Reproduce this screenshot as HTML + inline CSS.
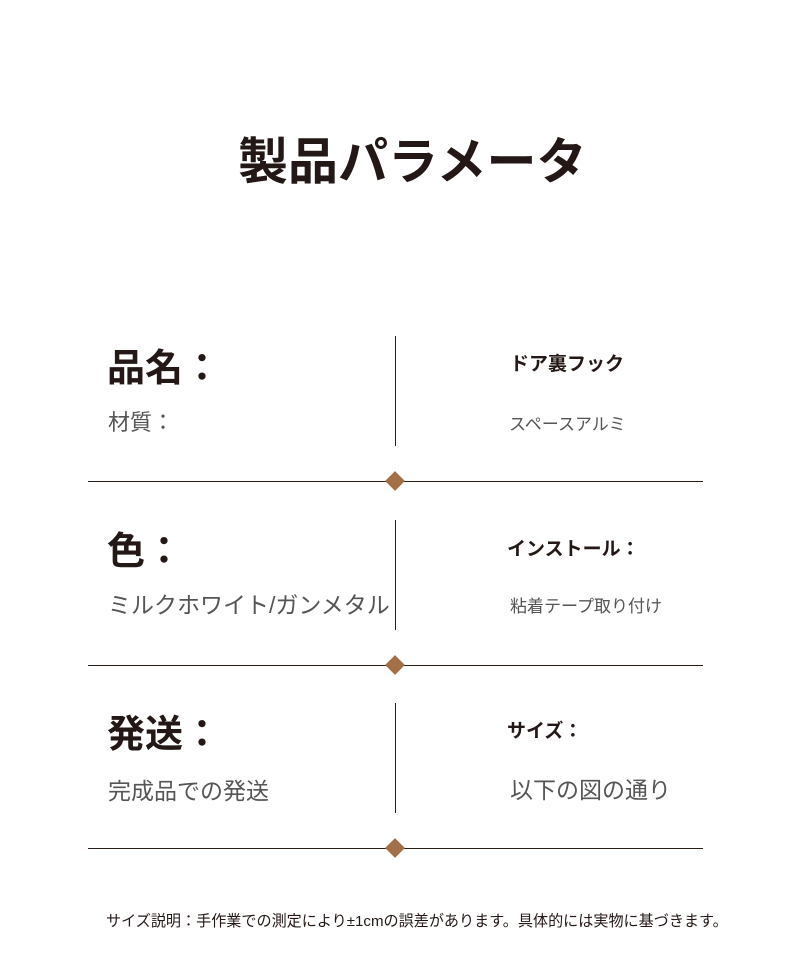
<!DOCTYPE html>
<html><head><meta charset="utf-8"><style>
body{margin:0;width:790px;height:955px;background:#fff;position:relative;overflow:hidden;font-family:"Liberation Sans","Noto Sans CJK JP",sans-serif;color:#2a1e18}
.t{position:absolute;white-space:nowrap;line-height:1}
.h{position:absolute;height:1px;background:#2a1e18;left:88px;width:615px}
.v{position:absolute;width:1px;background:#2a1e18;left:395px}
.d{position:absolute;width:14px;height:14px;background:#a36f48;transform:rotate(45deg);left:388px}
.big{font-size:38px;font-weight:bold;color:#231815}
.sub{font-size:23px;color:#555}
.rb{font-size:19px;font-weight:bold;color:#231815}
.rs{font-size:17px;color:#555}
</style></head><body>
<div class="t" style="left:238px;top:137px;font-size:50px;font-weight:bold;color:#231815">製品パラメータ</div>

<div class="t big" style="left:107px;top:350px">品名：</div>
<div class="t" style="left:108px;top:412px;font-size:22px;color:#555">材質：</div>
<div class="v" style="top:336px;height:110px"></div>
<div class="t rb" style="left:510px;top:355px">ドア裏フック</div>
<div class="t rs" style="left:509px;top:416px">スペースアルミ</div>
<div class="h" style="top:481px"></div>
<div class="d" style="top:474px"></div>

<div class="t big" style="left:107px;top:533px">色：</div>
<div class="t" style="left:108px;top:594px;font-size:23px;color:#555">ミルクホワイト/ガンメタル</div>
<div class="v" style="top:520px;height:110px"></div>
<div class="t rb" style="left:507px;top:540px">インストール：</div>
<div class="t rs" style="left:510px;top:598px">粘着テープ取り付け</div>
<div class="h" style="top:665px"></div>
<div class="d" style="top:658px"></div>

<div class="t big" style="left:107px;top:716px">発送：</div>
<div class="t sub" style="left:108px;top:780px">完成品での発送</div>
<div class="v" style="top:703px;height:110px"></div>
<div class="t rb" style="left:507px;top:722px">サイズ：</div>
<div class="t sub" style="left:510px;top:779px">以下の図の通り</div>
<div class="h" style="top:848px"></div>
<div class="d" style="top:841px"></div>

<div class="t" style="left:106px;top:914px;font-size:15.1px;color:#231815">サイズ説明：手作業での測定により±1cmの誤差があります。具体的には実物に基づきます。</div>
</body></html>
